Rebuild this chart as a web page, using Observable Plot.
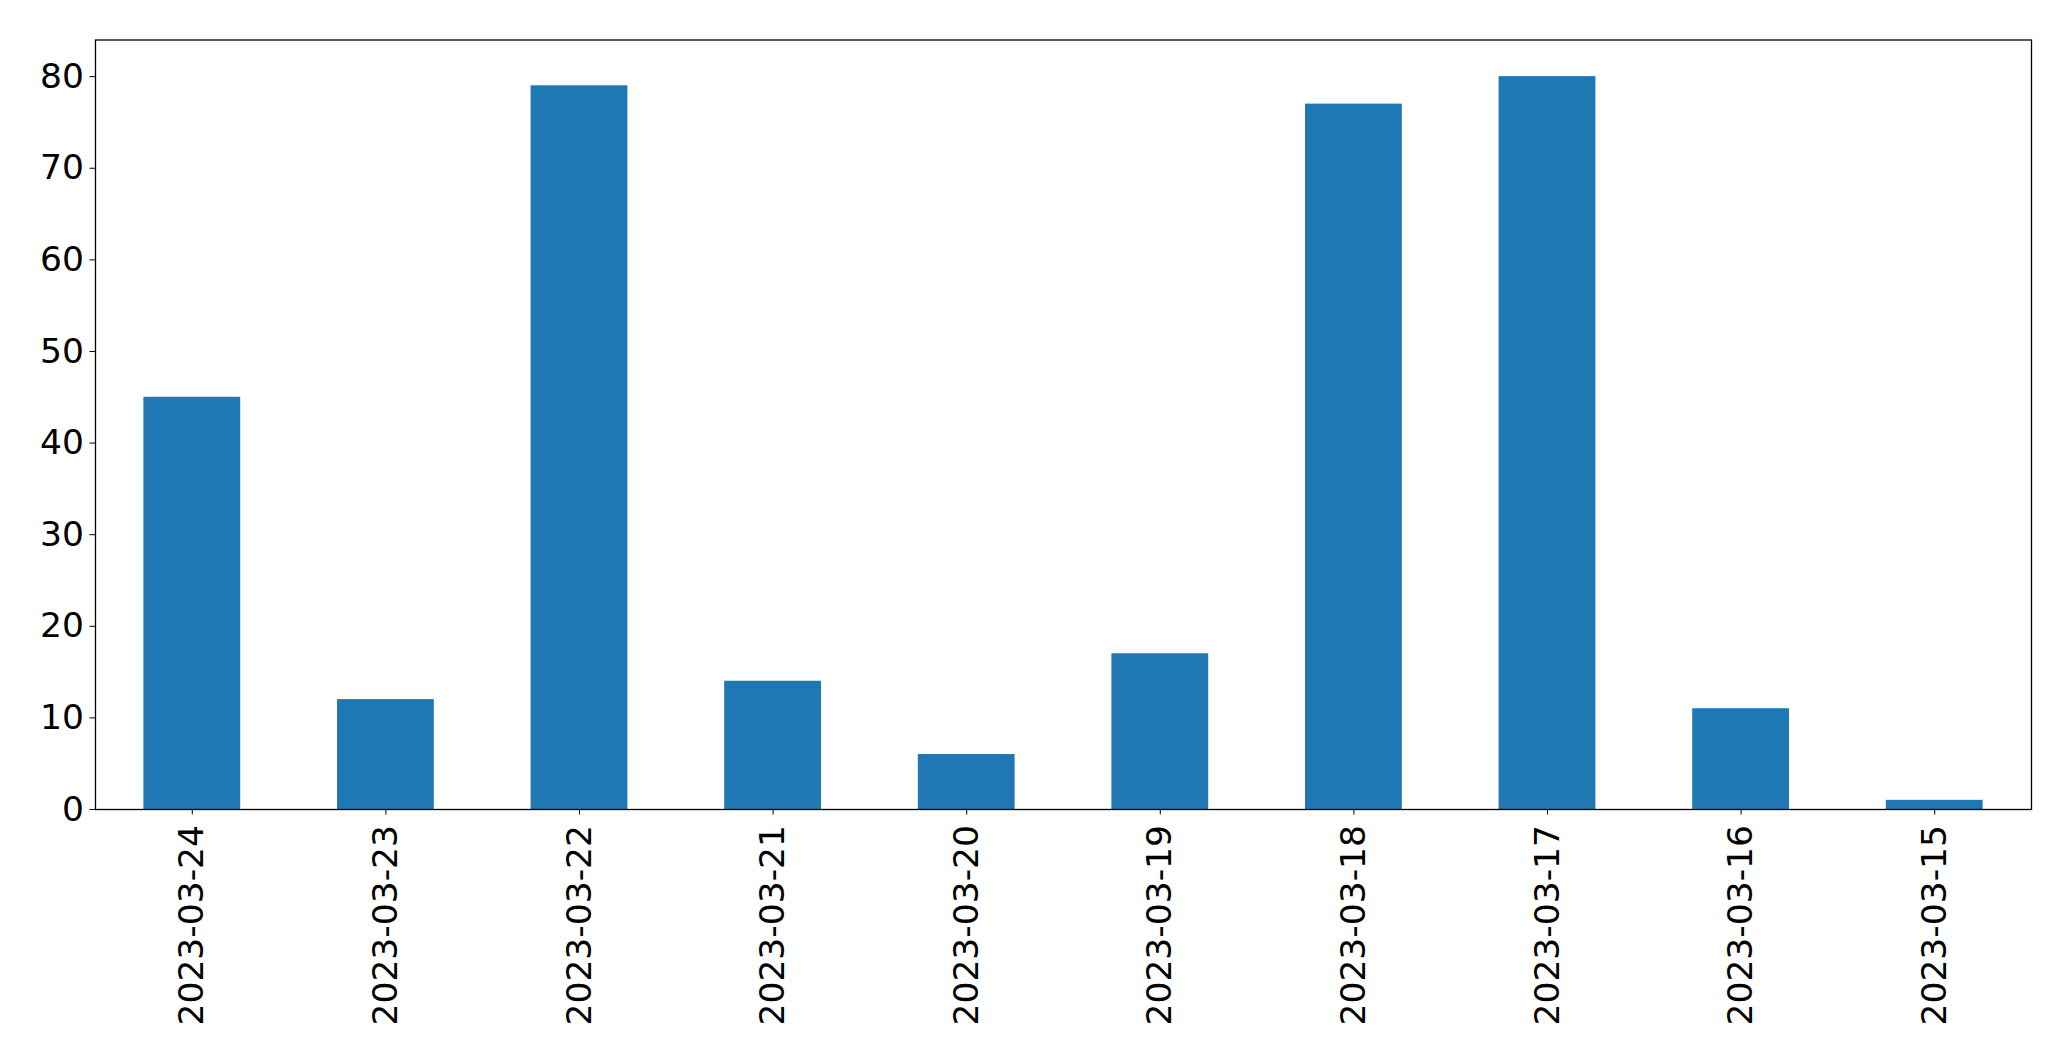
<!DOCTYPE html>
<html>
<head>
<meta charset="utf-8">
<script src="https://cdn.jsdelivr.net/npm/d3@7"></script>
<script src="https://cdn.jsdelivr.net/npm/@observablehq/plot@0.6"></script>
<style>
  html, body { margin: 0; padding: 0; background: #fff; }
  #chart svg { display: block; }
</style>
</head>
<body>
<div id="chart"></div>
<script>
const dates = ["2023-03-24","2023-03-23","2023-03-22","2023-03-21","2023-03-20","2023-03-19","2023-03-18","2023-03-17","2023-03-16","2023-03-15"];
const counts = [45, 12, 79, 14, 6, 17, 77, 80, 11, 1];
const yTicks = [0, 10, 20, 30, 40, 50, 60, 70, 80];

const data = dates.map((d, i) => ({date: d, count: counts[i]}));

const chart = Plot.plot({
  width: 2071,
  height: 1061,
  marginLeft: 95,
  marginRight: 40,
  marginTop: 39.5,
  marginBottom: 252,
  style: {fontFamily: "DejaVu Sans", fontSize: "34.5px", color: "#000", background: "#fff", fontVariant: "normal"},
  x: {domain: dates, paddingInner: 0.5, paddingOuter: 0.25, round: false, label: null},
  y: {domain: [0, 84], label: null},
  marks: [
    Plot.barY(data, {x: "date", y: "count", fill: "#1f77b4", inset: 0}),
    Plot.axisY({ticks: yTicks, tickSize: 5.5, tickPadding: 6, label: null, fontSize: 34.5}),
    Plot.axisX({tickSize: 5.5, tickPadding: 10, tickRotate: -90, label: null, fontSize: 34.5}),
    Plot.frame({stroke: "#000", strokeWidth: 1.3})
  ]
});
document.getElementById("chart").appendChild(chart);
</script>
</body>
</html>
